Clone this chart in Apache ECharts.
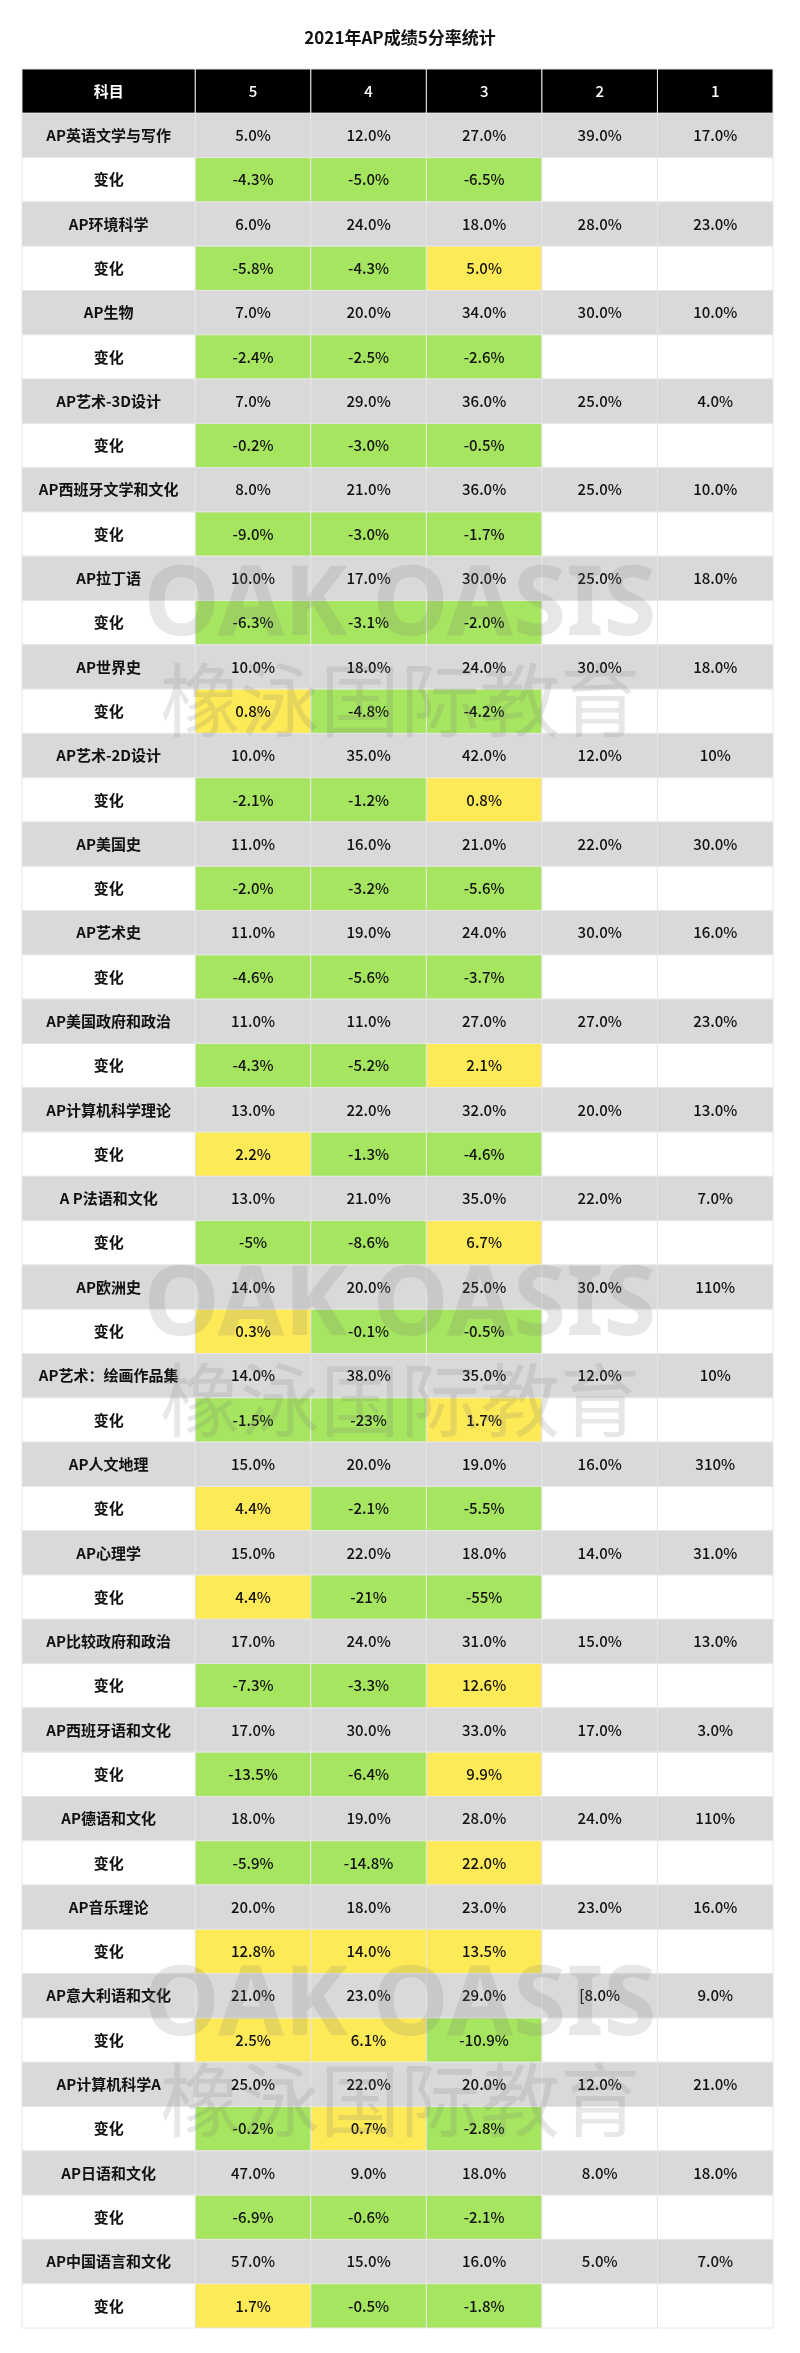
<!DOCTYPE html>
<html>
<head>
<meta charset="utf-8">
<script src="https://cdn.jsdelivr.net/npm/echarts@6/dist/echarts.min.js"></script>
<style>
  html, body { margin: 0; padding: 0; background: #fff; }
  #chart { width: 800px; height: 2353px; }
</style>
</head>
<body>
<div id="chart"></div>
<script>
var headers = ['科目', '5', '4', '3', '2', '1'];
var subjects = ['AP英语文学与写作', 'AP环境科学', 'AP生物', 'AP艺术-3D设计', 'AP西班牙文学和文化',
  'AP拉丁语', 'AP世界史', 'AP艺术-2D设计', 'AP美国史', 'AP艺术史', 'AP美国政府和政治',
  'AP计算机科学理论', 'A P法语和文化', 'AP欧洲史', 'AP艺术：绘画作品集', 'AP人文地理',
  'AP心理学', 'AP比较政府和政治', 'AP西班牙语和文化', 'AP德语和文化', 'AP音乐理论',
  'AP意大利语和文化', 'AP计算机科学A', 'AP日语和文化', 'AP中国语言和文化'];
var score5 = ['5.0%', '6.0%', '7.0%', '7.0%', '8.0%', '10.0%', '10.0%', '10.0%', '11.0%', '11.0%', '11.0%', '13.0%', '13.0%', '14.0%', '14.0%', '15.0%', '15.0%', '17.0%', '17.0%', '18.0%', '20.0%', '21.0%', '25.0%', '47.0%', '57.0%'];
var score4 = ['12.0%', '24.0%', '20.0%', '29.0%', '21.0%', '17.0%', '18.0%', '35.0%', '16.0%', '19.0%', '11.0%', '22.0%', '21.0%', '20.0%', '38.0%', '20.0%', '22.0%', '24.0%', '30.0%', '19.0%', '18.0%', '23.0%', '22.0%', '9.0%', '15.0%'];
var score3 = ['27.0%', '18.0%', '34.0%', '36.0%', '36.0%', '30.0%', '24.0%', '42.0%', '21.0%', '24.0%', '27.0%', '32.0%', '35.0%', '25.0%', '35.0%', '19.0%', '18.0%', '31.0%', '33.0%', '28.0%', '23.0%', '29.0%', '20.0%', '18.0%', '16.0%'];
var score2 = ['39.0%', '28.0%', '30.0%', '25.0%', '25.0%', '25.0%', '30.0%', '12.0%', '22.0%', '30.0%', '27.0%', '20.0%', '22.0%', '30.0%', '12.0%', '16.0%', '14.0%', '15.0%', '17.0%', '24.0%', '23.0%', '[8.0%', '12.0%', '8.0%', '5.0%'];
var score1 = ['17.0%', '23.0%', '10.0%', '4.0%', '10.0%', '18.0%', '18.0%', '10%', '30.0%', '16.0%', '23.0%', '13.0%', '7.0%', '110%', '10%', '310%', '31.0%', '13.0%', '3.0%', '110%', '16.0%', '9.0%', '21.0%', '18.0%', '7.0%'];
var change5 = ['-4.3%', '-5.8%', '-2.4%', '-0.2%', '-9.0%', '-6.3%', '0.8%', '-2.1%', '-2.0%', '-4.6%', '-4.3%', '2.2%', '-5%', '0.3%', '-1.5%', '4.4%', '4.4%', '-7.3%', '-13.5%', '-5.9%', '12.8%', '2.5%', '-0.2%', '-6.9%', '1.7%'];
var change4 = ['-5.0%', '-4.3%', '-2.5%', '-3.0%', '-3.0%', '-3.1%', '-4.8%', '-1.2%', '-3.2%', '-5.6%', '-5.2%', '-1.3%', '-8.6%', '-0.1%', '-23%', '-2.1%', '-21%', '-3.3%', '-6.4%', '-14.8%', '14.0%', '6.1%', '0.7%', '-0.6%', '-0.5%'];
var change3 = ['-6.5%', '5.0%', '-2.6%', '-0.5%', '-1.7%', '-2.0%', '-4.2%', '0.8%', '-5.6%', '-3.7%', '2.1%', '-4.6%', '6.7%', '-0.5%', '1.7%', '-5.5%', '-55%', '12.6%', '9.9%', '22.0%', '13.5%', '-10.9%', '-2.8%', '-2.1%', '-1.8%'];

var GRAY = '#d9d9d9', GREEN = '#a6e55f', YELLOW = '#feea57', BLACK = '#000';

function changeColor(v) { return v.charAt(0) === '-' ? GREEN : YELLOW; }

var cells = [];
headers.forEach(function (h, c) { cells.push([c, 0, h, BLACK, '#fff']); });
subjects.forEach(function (s, i) {
  var r = 1 + i * 2;
  var vals = [s, score5[i], score4[i], score3[i], score2[i], score1[i]];
  vals.forEach(function (v, c) { cells.push([c, r, v, GRAY, '#111']); });
  var ch = ['变化', change5[i], change4[i], change3[i], '', ''];
  ch.forEach(function (v, c) {
    var bg = (c >= 1 && c <= 3) ? changeColor(v) : '#fff';
    cells.push([c, r + 1, v, bg, '#111']);
  });
});
var nRows = 1 + subjects.length * 2;

// column c spans [left(c), left(c+1)] in axis units; first column is 1.5 units wide
function colLeft(c) { return c === 0 ? 0 : c + 0.5; }

var chart = echarts.init(document.getElementById('chart'));
chart.setOption({
  animation: false,
  title: {
    text: '2021年AP成绩5分率统计', left: 'center', top: 24,
    textStyle: { fontSize: 17, fontWeight: 'bold', color: '#111', fontFamily: 'Noto Sans CJK SC' }
  },
  graphic: [
    { type: 'text', left: 'center', top: 560, z: 100, style: { text: 'OAK OASIS', fontSize: 96, fontWeight: 'bold', fill: 'rgba(120,120,120,0.18)', fontFamily: 'Noto Sans' } },
    { type: 'text', left: 'center', top: 660, z: 100, style: { text: '橡泳国际教育', fontSize: 80, fill: 'rgba(120,120,120,0.18)', fontFamily: 'Noto Sans CJK SC' } },
    { type: 'text', left: 'center', top: 1260, z: 100, style: { text: 'OAK OASIS', fontSize: 96, fontWeight: 'bold', fill: 'rgba(120,120,120,0.18)', fontFamily: 'Noto Sans' } },
    { type: 'text', left: 'center', top: 1360, z: 100, style: { text: '橡泳国际教育', fontSize: 80, fill: 'rgba(120,120,120,0.18)', fontFamily: 'Noto Sans CJK SC' } },
    { type: 'text', left: 'center', top: 1960, z: 100, style: { text: 'OAK OASIS', fontSize: 96, fontWeight: 'bold', fill: 'rgba(120,120,120,0.18)', fontFamily: 'Noto Sans' } },
    { type: 'text', left: 'center', top: 2060, z: 100, style: { text: '橡泳国际教育', fontSize: 80, fill: 'rgba(120,120,120,0.18)', fontFamily: 'Noto Sans CJK SC' } }
  ],
  grid: { left: 22, right: 27, top: 69, bottom: 25 },
  xAxis: { type: 'value', min: 0, max: 6.5, show: false },
  yAxis: { type: 'value', min: 0, max: nRows, inverse: true, show: false },
  series: [{
    type: 'custom',
    data: cells,
    renderItem: function (params, api) {
      var c = api.value(0), r = api.value(1);
      var p0 = api.coord([colLeft(c), r]);
      var p1 = api.coord([colLeft(c + 1), r + 1]);
      var text = cells[params.dataIndex][2];
      var bg = cells[params.dataIndex][3];
      var fg = cells[params.dataIndex][4];
      return {
        type: 'rect',
        shape: { x: p0[0], y: p0[1], width: p1[0] - p0[0], height: p1[1] - p0[1] },
        style: { fill: bg, stroke: '#e6e6e6', lineWidth: 1 },
        textContent: {
          style: {
            text: text, fill: fg, fontSize: 15,
            fontWeight: c === 0 ? 'bold' : 500,
            fontFamily: 'Noto Sans CJK SC'
          }
        },
        textConfig: { position: 'inside' }
      };
    }
  }]
});
</script>
</body>
</html>
